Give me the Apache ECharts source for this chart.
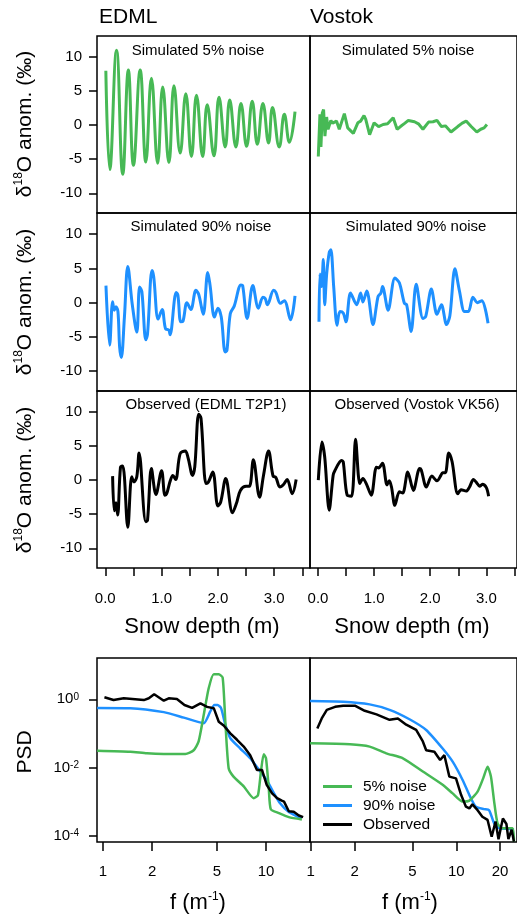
<!DOCTYPE html>
<html><head><meta charset="utf-8">
<script src="https://cdn.jsdelivr.net/npm/echarts@6/dist/echarts.min.js"></script>
<style>html,body{margin:0;padding:0;background:#fff}#c{width:517px;height:914px}</style>
</head><body><div id="c"></div>
<script>
// ---- data (depth m, δ18O anomaly ‰) ----
const edml5 = [[0.01,8.0],[0.08,-6.5],[0.20,11.0],[0.31,-7.2],[0.41,8.1],[0.50,-5.9],[0.62,8.1],[0.72,-5.4],[0.82,6.9],[0.93,-5.6],[1.02,5.6],[1.13,-5.5],[1.22,5.8],[1.33,-4.1],[1.43,4.6],[1.53,-4.6],[1.62,4.4],[1.73,-4.6],[1.81,3.0],[1.93,-4.5],[2.02,4.1],[2.13,-3.2],[2.21,3.7],[2.32,-3.2],[2.41,3.2],[2.51,-3.1],[2.61,3.5],[2.70,-2.8],[2.80,3.2],[2.90,-2.6],[2.97,2.6],[3.09,-3.2],[3.18,1.6],[3.27,-2.5],[3.37,2.0]];
const vostok5 = [[0.006,-4.6],[0.035,1.6],[0.053,-3.2],[0.077,1.8],[0.10,2.3],[0.124,-1.6],[0.154,1.2],[0.18,-0.6],[0.23,0.7],[0.26,0.3],[0.29,0.1],[0.33,0.6],[0.38,-0.6],[0.47,1.7],[0.53,-0.4],[0.63,-1.2],[0.71,0.35],[0.76,0.6],[0.82,1.4],[0.85,0.9],[0.92,-1.4],[1.0,0.35],[1.08,-0.2],[1.16,0.1],[1.24,0.2],[1.34,1.1],[1.41,-0.6],[1.47,-0.2],[1.55,0.3],[1.61,0.7],[1.72,0.5],[1.79,0.2],[1.87,-0.6],[1.97,0.45],[2.05,0.5],[2.12,0.7],[2.20,-0.2],[2.27,-0.1],[2.37,-1.0],[2.49,-0.2],[2.57,0.3],[2.64,0.6],[2.73,-0.2],[2.83,-1.0],[2.90,-0.6],[2.96,-0.4],[3.01,0.1]];
const edml90 = [[0.012,2.5],[0.078,-6.2],[0.13,0.15],[0.16,-1.1],[0.19,-0.6],[0.225,-1.3],[0.255,-6.5],[0.285,-8.0],[0.34,-2.1],[0.40,5.3],[0.48,-0.3],[0.56,-4.3],[0.61,2.3],[0.65,1.6],[0.72,-5.4],[0.75,-4.6],[0.83,4.7],[0.86,3.8],[0.94,-2.4],[1.01,-1.0],[1.07,-3.8],[1.13,-4.0],[1.15,-4.7],[1.26,1.5],[1.29,1.1],[1.34,-2.8],[1.38,-2.7],[1.45,0.0],[1.52,-1.0],[1.61,1.8],[1.66,1.2],[1.74,-1.7],[1.82,4.4],[1.86,2.6],[1.94,-2.1],[2.0,-0.8],[2.06,-2.1],[2.13,-7.2],[2.16,-7.0],[2.22,-1.6],[2.29,-0.5],[2.41,2.6],[2.44,2.5],[2.52,-2.3],[2.62,2.5],[2.72,-0.8],[2.80,0.8],[2.84,0.6],[2.88,-0.3],[2.99,1.8],[3.03,1.5],[3.11,-0.1],[3.18,0.3],[3.29,-2.5],[3.37,1.0]];
const vostok90 = [[0.018,-2.8],[0.035,4.2],[0.065,2.35],[0.095,6.3],[0.12,-0.3],[0.154,4.1],[0.20,7.3],[0.23,7.75],[0.28,2.35],[0.34,-3.3],[0.39,-1.3],[0.45,-1.5],[0.50,-2.8],[0.58,1.4],[0.69,-0.3],[0.76,1.4],[0.80,0.1],[0.87,1.7],[0.98,-3.2],[1.07,0.9],[1.12,1.4],[1.15,2.35],[1.25,-1.1],[1.37,3.6],[1.45,2.9],[1.54,-0.1],[1.58,-0.3],[1.66,-4.2],[1.75,2.7],[1.87,-2.3],[1.92,-2.0],[2.02,2.0],[2.12,-1.7],[2.20,-0.3],[2.29,-3.2],[2.35,-1.9],[2.44,4.95],[2.52,1.75],[2.61,-1.3],[2.68,-1.3],[2.76,0.8],[2.84,0.0],[2.92,0.3],[3.03,-3.0]];
const edmlObs = [[0.13,0.6],[0.16,-4.5],[0.19,-3.3],[0.22,-5.1],[0.27,1.9],[0.31,2.1],[0.40,-6.9],[0.47,0.5],[0.51,-0.25],[0.56,0.5],[0.60,4.0],[0.72,-6.1],[0.75,-5.9],[0.82,1.7],[0.90,-2.1],[1.0,1.4],[1.06,-2.2],[1.09,-2.0],[1.15,-0.2],[1.20,0.7],[1.25,0.1],[1.33,3.9],[1.42,4.3],[1.47,3.3],[1.55,0.7],[1.59,2.0],[1.66,9.7],[1.70,9.1],[1.79,-0.5],[1.83,-0.3],[1.91,1.2],[2.0,-3.8],[2.05,-3.2],[2.14,0.25],[2.26,-4.8],[2.33,-3.4],[2.40,-1.5],[2.50,-0.9],[2.56,-0.9],[2.63,3.0],[2.74,-2.5],[2.81,0.7],[2.90,4.3],[2.98,0.6],[3.03,0.4],[3.10,-1.0],[3.17,-0.6],[3.23,0.1],[3.32,-2.0],[3.39,0.1]];
const vostokObs = [[0.006,0.0],[0.07,5.6],[0.12,3.4],[0.20,-4.4],[0.27,0.7],[0.30,1.4],[0.42,2.9],[0.45,2.7],[0.52,-2.2],[0.60,-2.35],[0.67,6.0],[0.745,-0.5],[0.80,0.25],[0.86,-0.5],[0.95,-2.2],[1.04,1.9],[1.08,1.8],[1.15,2.5],[1.23,-0.7],[1.27,-0.1],[1.31,-1.0],[1.37,-3.7],[1.45,-1.7],[1.51,-1.9],[1.60,1.2],[1.70,-1.5],[1.81,1.7],[1.84,1.5],[1.93,-1.0],[2.03,0.6],[2.12,-0.1],[2.19,0.7],[2.22,1.1],[2.27,1.1],[2.33,4.0],[2.39,2.7],[2.49,-2.0],[2.55,-1.4],[2.64,-1.6],[2.70,-1.0],[2.77,0.1],[2.83,-0.4],[2.88,-0.9],[2.93,-0.6],[3.00,-1.1],[3.04,-2.35]];
// ---- spectra (f in 1/m, PSD) ----
const psdEdml5 = [[0.92,3.1e-2],[1.47,2.9e-2],[1.86,2.6e-2],[2.36,2.5e-2],[3.2,2.5e-2],[3.6,3.2e-2],[3.86,5.8e-2],[4.15,0.35],[4.45,2.1],[4.78,5.4],[5.13,5.4],[5.42,4.3],[5.63,0.22],[5.9,9.5e-3],[6.32,5.4e-3],[7.3,2.8e-3],[8.4,1.26e-3],[8.93,1.55e-3],[9.31,7.6e-3],[9.68,2.45e-2],[10.0,1.86e-2],[10.4,2.45e-3],[10.7,6.0e-4],[12.0,4.6e-4],[13.8,3.5e-4],[16.6,3.0e-4]];
const psdEdml90 = [[0.92,0.56],[1.47,0.55],[2.36,0.42],[3.13,0.29],[4.15,0.2],[4.55,0.44],[4.82,0.68],[5.05,0.68],[5.3,0.55],[5.63,0.18],[6.04,7.2e-2],[6.95,3.6e-2],[8.0,1.86e-2],[9.23,7.6e-3],[10.1,4.3e-3],[10.9,2.2e-3],[12.2,8.9e-4],[13.8,5.0e-4],[16.6,3.2e-4]];
const psdEdmlObs = [[1.02,1.15],[1.16,0.95],[1.34,1.07],[1.78,0.95],[1.91,1.07],[2.06,1.41],[2.36,0.91],[2.53,1.07],[2.84,1.02],[3.16,0.68],[3.52,0.56],[3.96,0.76],[4.35,0.6],[4.78,0.55],[5.13,0.22],[5.5,0.17],[6.04,0.1],[6.64,6.5e-2],[7.3,4.1e-2],[8.0,2.3e-2],[8.8,8.5e-3],[9.45,8.5e-3],[10.1,3.1e-3],[10.9,1.74e-3],[11.7,1.26e-3],[12.5,1.07e-3],[12.9,1.0e-3],[13.8,5.2e-4],[14.8,5.0e-4],[15.9,3.9e-4],[16.9,3.5e-4]];
const psdVostok5 = [[0.99,5.1e-2],[1.86,4.8e-2],[2.54,4.1e-2],[3.3,2.6e-2],[4.3,1.86e-2],[5.89,7.6e-3],[8.06,3.1e-3],[9.44,1.74e-3],[11.05,1.0e-3],[12.3,1.07e-3],[14.0,1.95e-3],[15.3,4.8e-3],[16.4,1.05e-2],[17.3,5.4e-3],[18.2,1.0e-3],[19.2,2.3e-4],[20.7,1.66e-4],[24.3,1.66e-4],[24.9,6.6e-5]];
const psdVostok90 = [[0.99,0.89],[1.67,0.85],[2.54,0.71],[3.48,0.49],[4.77,0.26],[6.21,0.126],[8.06,3.6e-2],[9.44,1.48e-2],[11.05,4.3e-3],[12.3,1.55e-3],[13.6,7.1e-4],[15.5,6.0e-4],[16.8,5.6e-4],[18.2,2.3e-4],[19.7,1.66e-4],[23.0,1.58e-4],[24.9,1.5e-4]];
const psdVostokObs = [[1.11,0.14],[1.19,0.275],[1.29,0.49],[1.47,0.6],[1.67,0.65],[2.01,0.65],[2.35,0.46],[2.83,0.36],[3.48,0.25],[3.97,0.275],[4.53,0.18],[5.3,0.126],[5.89,5.8e-2],[6.21,3.2e-2],[7.07,2.9e-2],[7.74,1.66e-2],[8.28,2.3e-2],[8.96,5.4e-3],[9.95,4.8e-3],[10.8,1.55e-3],[11.65,7.1e-4],[12.3,6.3e-4],[12.9,8.3e-4],[14.0,5.6e-4],[15.1,3.6e-4],[16.4,2.9e-4],[17.5,9.3e-5],[18.6,2.6e-4],[19.5,7.9e-5],[20.2,1.66e-4],[20.9,3.2e-4],[22.1,2.2e-4],[22.8,7.9e-5],[24.0,1.5e-4],[24.9,6.6e-5]];
// ---- ticks / labels ----
const depthTicks = [0,0.5,1,1.5,2,2.5,3,3.5];
const depthLabels = [0,1,2,3];
const anomTicks = [-10,-5,0,5,10];
const freqTicksL = [1,2,5,10];
const freqTicksR = [1,2,5,10,20];
const psdTicks = [1e-4,1e-2,1];
const seriesNames = ['5% noise','90% noise','Observed'];
const panelTitles = ['Simulated 5% noise','Simulated 5% noise','Simulated 90% noise','Simulated 90% noise','Observed (EDML T2P1)','Observed (Vostok VK56)'];

const GREEN = '#47b955', BLUE = '#1e90ff', BLACK = '#000';
const FF = '"Liberation Sans", Arial, Helvetica, sans-serif';
const lg = Math.log10;
const sup = {fontSize: 10, verticalAlign: 'top', lineHeight: 10, fontFamily: FF, color: '#000'};

const grids = [
  {left:97, top:36, width:213, height:177},
  {left:310, top:36, width:208, height:177},
  {left:97, top:213, width:213, height:178},
  {left:310, top:213, width:208, height:178},
  {left:97, top:391, width:213, height:177},
  {left:310, top:391, width:208, height:177},
  {left:97, top:658, width:213, height:184},
  {left:310, top:658, width:208, height:184}
].map(g => Object.assign(g, {show:true, borderColor:'#000', borderWidth:1.5, backgroundColor:'transparent', containLabel:false}));

const noLine = {show:false, onZero:false};
const xAxis = [], yAxis = [];
for (let i = 0; i < 6; i++) {
  const left = i % 2 === 0, bottom = i >= 4;
  xAxis.push({type:'value', gridIndex:i, position:'bottom', min: left ? -0.147 : -0.142, max: left ? 3.636 : 3.546,
    axisLine:noLine, splitLine:{show:false},
    axisTick:{show:bottom, length:8, lineStyle:{color:'#000', width:1.5}, customValues: depthTicks},
    axisLabel:{show:bottom, customValues: depthLabels, formatter: v => v.toFixed(1), margin:23, color:'#000', fontSize:15, fontFamily:FF}});
  yAxis.push({type:'value', gridIndex:i, position:'left', min:-12.9, max:13.1,
    axisLine:noLine, splitLine:{show:false},
    axisTick:{show:left, length:8, lineStyle:{color:'#000', width:1.5}, customValues: anomTicks},
    axisLabel:{show:left, customValues: anomTicks, margin:15, color:'#000', fontSize:15, fontFamily:FF}});
}
[[6, freqTicksL, -0.037, 1.270], [7, freqTicksR, -0.005, 1.417]].forEach(([gi, ft, mn, mx]) => {
  xAxis.push({type:'value', gridIndex:gi, position:'bottom', min:mn, max:mx, axisLine:noLine, splitLine:{show:false},
    axisTick:{show:true, length:9, lineStyle:{color:'#000', width:1.5}, customValues: ft.map(lg)},
    axisLabel:{show:true, customValues: ft.map(lg), formatter: v => String(Math.round(Math.pow(10, v))), margin:22, color:'#000', fontSize:15, fontFamily:FF}});
  yAxis.push({type:'value', gridIndex:gi, position:'left', min:-4.185, max:1.211, axisLine:noLine, splitLine:{show:false},
    axisTick:{show:gi === 6, length:8, lineStyle:{color:'#000', width:1.5}, customValues: psdTicks.map(lg)},
    axisLabel:{show:gi === 6, customValues: psdTicks.map(lg), formatter: v => '10{s|' + Math.round(v) + '}', margin:18, color:'#000', fontSize:15, fontFamily:FF, rich:{s:sup}}});
});

function ts(name, data, gi, color, smooth) {
  return {type:'line', name, data, xAxisIndex:gi, yAxisIndex:gi, showSymbol:false, symbol:'none', smooth,
    lineStyle:{color, width:3}, itemStyle:{color}, silent:true, animation:false};
}
function psd(name, data, gi, color, smooth) {
  return {type:'line', name, data: data.map(([f, p]) => [lg(f), lg(p)]), xAxisIndex:gi, yAxisIndex:gi, showSymbol:false, symbol:'none', smooth,
    lineStyle:{color, width:2.5}, itemStyle:{color}, silent:true, animation:false, clip:true};
}
const series = [
  ts(seriesNames[0], edml5, 0, GREEN, 0.45),
  ts(seriesNames[0], vostok5, 1, GREEN, false),
  ts(seriesNames[1], edml90, 2, BLUE, 0.35),
  ts(seriesNames[1], vostok90, 3, BLUE, 0.3),
  ts(seriesNames[2], edmlObs, 4, BLACK, 0.35),
  ts(seriesNames[2], vostokObs, 5, BLACK, 0.3),
  psd(seriesNames[1], psdEdml90, 6, BLUE, 0.2),
  psd(seriesNames[0], psdEdml5, 6, GREEN, 0.2),
  psd(seriesNames[2], psdEdmlObs, 6, BLACK, 0),
  psd(seriesNames[1], psdVostok90, 7, BLUE, 0.2),
  psd(seriesNames[0], psdVostok5, 7, GREEN, 0.2),
  psd(seriesNames[2], psdVostokObs, 7, BLACK, 0)
];

function txt(x, y, text, size, opts) {
  return Object.assign({type:'text', x, y, silent:true, style:Object.assign({text, fill:'#000', font: size + 'px ' + FF, align:'center', verticalAlign:'middle'}, (opts && opts.style) || {})}, opts && opts.rotation ? {rotation: opts.rotation} : {});
}
const ylab = '{m|δ}{s|18}{m|O anom. (‰)}';
const richY = {m:{fontSize:21, fontFamily:FF, color:'#000', lineHeight:24}, s:{fontSize:12, fontFamily:FF, color:'#000', verticalAlign:'top', lineHeight:12}};
const richF = {m:{fontSize:22, fontFamily:FF, color:'#000', lineHeight:24}, s:{fontSize:12, fontFamily:FF, color:'#000', verticalAlign:'top', lineHeight:12}};
const graphic = [
  txt(99, 17, 'EDML', 21, {style:{align:'left'}}),
  txt(310, 17, 'Vostok', 21, {style:{align:'left'}}),
  txt(198, 51, panelTitles[0], 15), txt(408, 51, panelTitles[1], 15),
  txt(201, 227, panelTitles[2], 15), txt(416, 227, panelTitles[3], 15),
  txt(206, 405, panelTitles[4], 15), txt(417, 405, panelTitles[5], 15),
  txt(202, 627, 'Snow depth (m)', 22), txt(412, 627, 'Snow depth (m)', 22),
  txt(25, 752, 'PSD', 21, {rotation: Math.PI/2}),
  {type:'text', x:198, y:903, silent:true, style:{text:'{m|f (m}{s|-1}{m|)}', rich:richF, align:'center', verticalAlign:'middle'}},
  {type:'text', x:410, y:903, silent:true, style:{text:'{m|f (m}{s|-1}{m|)}', rich:richF, align:'center', verticalAlign:'middle'}}
];
[124, 302, 480].forEach(cy => graphic.push({type:'text', x:25, y:cy, rotation:Math.PI/2, silent:true, style:{text:ylab, rich:richY, align:'center', verticalAlign:'middle'}}));

const option = {
  animation:false,
  backgroundColor:'#fff',
  grid: grids, xAxis, yAxis, series, graphic,
  legend:{data: seriesNames, orient:'vertical', left:323, top:777, itemWidth:29, itemHeight:3, itemGap:0, icon:'rect',
    textStyle:{fontSize:15.5, fontFamily:FF, color:'#000', lineHeight:19, padding:[0,0,0,6]}, padding:0, selectedMode:false}
};
const chart = echarts.init(document.getElementById('c'), null, {renderer:'canvas'});
chart.setOption(option);
</script></body></html>
